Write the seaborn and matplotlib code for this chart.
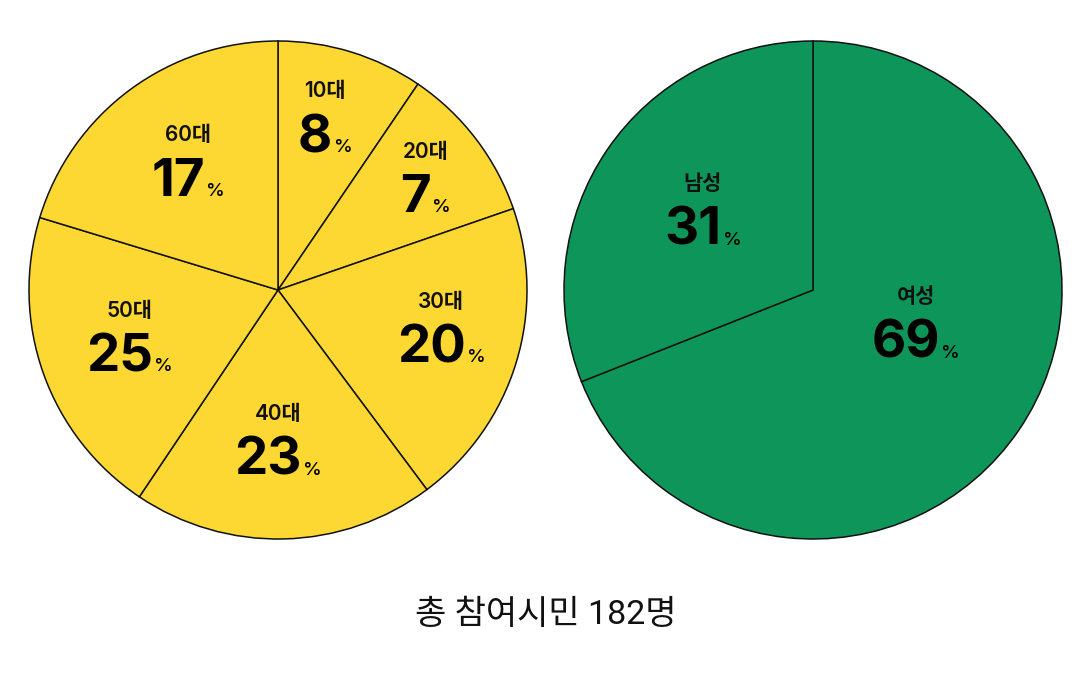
import matplotlib
matplotlib.use('Agg')
import matplotlib.pyplot as plt
import seaborn as sns
import numpy as np

# age groups - wedge sizes, labels as printed
age_groups = ['10대', '20대', '30대', '40대', '50대', '60대']
age_wedge = [9.5, 10.2, 20.1, 19.6, 20.3, 20.3]
age_pct = [8, 7, 20, 23, 25, 17]

# gender
genders = ['여성', '남성']
gender_wedge = [69, 31]
gender_pct = [69, 31]

total_text = '총 참여시민 182명'

sns.set_theme(style='white')
plt.rcParams['font.family'] = ['Noto Sans CJK KR', 'DejaVu Sans']
LABEL_FONT = ['Inter', 'Noto Sans CJK KR']

YELLOW = '#FDD732'
GREEN = '#0E965A'
W, H = 1092, 676
R_PX = 249
HALF = 262

fig = plt.figure(figsize=(W / 100, H / 100), dpi=100)
fig.patch.set_facecolor('white')


def pie_axes(cx, cy):
    ax = fig.add_axes([(cx - HALF) / W, (H - cy - HALF) / H, 2 * HALF / W, 2 * HALF / H])
    return ax


def draw_pie(ax, sizes, color, names, pcts, nudges):
    wedges, _ = ax.pie(sizes, colors=[color] * len(sizes), startangle=90, counterclock=False,
                       wedgeprops=dict(edgecolor='#111111', linewidth=1.1), radius=1)
    lim = HALF / R_PX
    ax.set_xlim(-lim, lim)
    ax.set_ylim(-lim, lim)
    ax.set_aspect('equal')
    ax.axis('off')
    fig.canvas.draw()
    inv = ax.transData.inverted()
    for w, name, pct, (dth, rf) in zip(wedges, names, pcts, nudges):
        # number anchored on the wedge middle, nudged a bit
        mid = np.deg2rad((w.theta1 + w.theta2) / 2 + dth)
        x, y = rf * np.cos(mid), rf * np.sin(mid)
        num = ax.text(x, y, str(pct), ha='center', va='baseline', fontsize=38,
                      fontweight='bold', color='#000000', family=LABEL_FONT)
        fig.canvas.draw()
        bb = num.get_window_extent().transformed(inv)
        sign = ax.text(bb.x1 + 0.005, y, '%', ha='left', va='baseline', fontsize=13.5,
                       fontweight='medium', color='#000000', family=LABEL_FONT)
        fig.canvas.draw()
        sb = sign.get_window_extent().transformed(inv)
        # small label centred over number + %
        ax.text((bb.x0 + sb.x1) / 2, y + 0.22, name, ha='center', va='baseline', fontsize=15,
                fontweight='semibold', color='#111111', family=LABEL_FONT)


ax1 = pie_axes(278, 290)
draw_pie(ax1, age_wedge, YELLOW, age_groups, age_pct,
         [(2, 0.574), (-7.9, 0.633), (-8.2, 0.68), (-4.5, 0.744), (7.6, 0.715), (10.2, 0.55)])

ax2 = pie_axes(813, 290)
draw_pie(ax2, gender_wedge, GREEN, genders, gender_pct,
         [(-2, 0.462), (13.6, 0.515)])

fig.text(0.5, 1 - 615 / H, total_text, ha='center', va='center', fontsize=24.5, color='#111111',
         family=['Roboto', 'Noto Sans CJK KR'])

fig.savefig('out.png', dpi=100, facecolor='white')
plt.close(fig)
